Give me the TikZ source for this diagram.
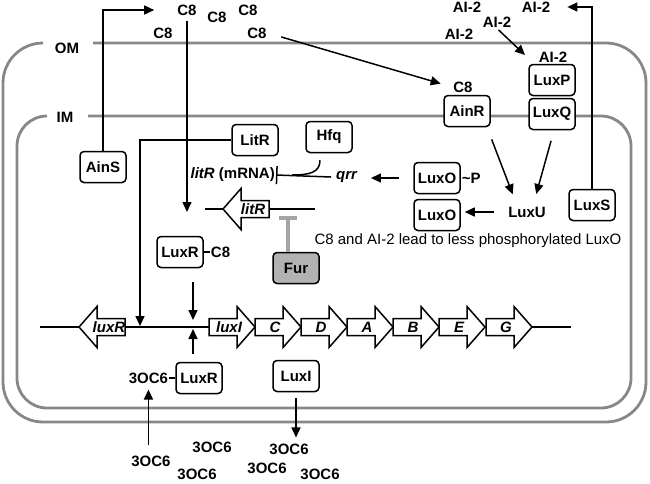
\documentclass[tikz,border=0pt]{standalone}
\usepackage{fontspec}
\setmainfont{Liberation Sans}
\usetikzlibrary{arrows.meta}
\definecolor{memgray}{RGB}{135,135,135}
\definecolor{furgray}{RGB}{178,178,178}
\definecolor{bargray}{RGB}{165,165,165}
\newcommand{\lbl}{\fontsize{15}{17}\selectfont\bfseries}
\tikzset{
  mem/.style={draw=memgray, line width=2.8pt},
  box/.style={draw, fill=white, rounded corners=4pt, line width=1.5pt, minimum width=46pt, minimum height=31pt, inner sep=2pt, font=\lbl},
  lab/.style={inner sep=1pt, font=\lbl},
  genelab/.style={inner sep=0pt, font=\lbl\itshape},
  arr/.style={line width=1.5pt, -{Triangle[length=10pt,width=9pt]}},
  link/.style={line width=1.5pt},
  gene/.style={draw, fill=white, line width=1.5pt},
  furline/.style={draw=bargray, line width=4pt, -{Bar[width=18pt]}}
}
\newcommand{\generight}[4]{%
  \draw[gene] (#2,#3-8.5) -- ++(28,0) -- ++(0,-12) -- (#2+46,#3) -- (#2+28,#3+20.5) -- ++(0,-12) -- (#2,#3+8.5) -- cycle;
  \node[genelab] (#1) at (#2+20,#3) {#4};}
\newcommand{\geneleft}[4]{%
  \draw[gene] (#2,#3) -- (#2+18,#3-20.5) -- ++(0,12) -- (#2+46,#3-8.5) -- ++(0,17) -- (#2+18,#3+8.5) -- ++(0,12) -- cycle;
  \node[genelab] (#1) at (#2+30,#3) {#4};}
\begin{document}
\begin{tikzpicture}[x=1pt, y=-1pt]
\useasboundingbox (0,0) rectangle (650,483);

\draw[mem] (93,43) -- (606,43) arc[start angle=90, end angle=0, radius=40pt] -- (646,382)
  arc[start angle=0, end angle=-90, radius=40pt] -- (43,422)
  arc[start angle=-90, end angle=-180, radius=40pt] -- (3,83)
  arc[start angle=180, end angle=90, radius=40pt];
\draw[mem] (88,116) -- (601,116) arc[start angle=90, end angle=0, radius=30pt] -- (631,378)
  arc[start angle=0, end angle=-90, radius=30pt] -- (47,408)
  arc[start angle=-90, end angle=-180, radius=30pt] -- (17,146)
  arc[start angle=180, end angle=90, radius=30pt];
\node[lab] (om) at (67,48) {OM};
\node[lab] (im) at (65,117) {IM};

\node[lab] (c8a) at (187,10) {C8};
\node[lab] (c8b) at (217,17) {C8};
\node[lab] (c8c) at (248,10) {C8};
\node[lab] (c8d) at (163,33) {C8};
\node[lab] (c8e) at (257,33) {C8};
\node[lab] (c8f) at (463,87) {C8};
\node[lab] (ai2a) at (467,7) {AI-2};
\node[lab] (ai2b) at (536,7) {AI-2};
\node[lab] (ai2c) at (497,22) {AI-2};
\node[lab] (ai2d) at (459,34) {AI-2};
\node[lab] (ai2e) at (553,57) {AI-2};

\node[box] (AinS) at (103,167) {AinS};
\node[box] (LitR) at (255,140) {LitR};
\node[box] (Hfq) at (329,137) {Hfq};
\node[box] (AinR) at (467,111) {AinR};
\node[box] (LuxP) at (552,80) {LuxP};
\node[box] (LuxQ) at (552,114) {LuxQ};
\node[box] (LuxOP) at (437,178) {LuxO};
\node[lab, anchor=west] (phos) at (LuxOP.east) {\textasciitilde P};
\node[box] (LuxO) at (437,215) {LuxO};
\node[lab] (LuxU) at (527,212) {LuxU};
\node[box] (LuxS) at (592,205) {LuxS};
\node[lab, anchor=east] (mrna) at (276,175) {\textit{litR} (mRNA)};
\node[lab] (qrr) at (347,177) {\textit{qrr}};
\node[font=\fontsize{15}{17}\selectfont] (note) at (468,241) {C8 and AI-2 lead to less phosphorylated LuxO};
\node[box, fill=furgray] (Fur) at (296,268) {Fur};
\node[box] (LuxRC) at (180,252) {LuxR};
\node[lab, anchor=west] (c8r) at ([xshift=6pt]LuxRC.east) {C8};
\node[box] (LuxRB) at (199,378) {LuxR};
\node[lab, anchor=east] (ooc) at ([xshift=-6pt]LuxRB.west) {3OC6};
\node[box] (LuxI) at (296,376) {LuxI};
\node[lab] (o1) at (151,461) {3OC6};
\node[lab] (o2) at (212,447) {3OC6};
\node[lab] (o3) at (197,474) {3OC6};
\node[lab] (o4) at (289,449) {3OC6};
\node[lab] (o5) at (267,468) {3OC6};
\node[lab] (o6) at (320,474) {3OC6};

\draw[link] (205,209) -- (315,209);
\geneleft{litRg}{223}{209}{litR}
\draw[link] (40,327) -- (571,327);
\geneleft{luxRg}{79}{327}{luxR}
\generight{luxIg}{209}{327}{luxI}
\generight{Cg}{255}{327}{C}
\generight{Dg}{301}{327}{D}
\generight{Ag}{347}{327}{A}
\generight{Bg}{393}{327}{B}
\generight{Eg}{439}{327}{E}
\generight{Gg}{486}{327}{G}

\coordinate (c8tip) at (187,212);
\coordinate (ai2tip) at (525,55);
\coordinate (litrtip) at (140,326);
\coordinate (promtop) at (193,320);
\coordinate (prombot) at (193,329);

\draw[arr, shorten >=22pt] (AinS.north) |- (c8a.west);
\draw[arr, shorten <=4pt] (c8a.south) -- (c8tip);
\draw[arr, shorten <=14pt, shorten >=12pt] (c8e.east) -- (c8f.west);
\draw[arr, shorten <=2pt] (ai2c.south) -- (ai2tip);
\draw[arr, shorten >=16pt] (LuxS.north) |- (ai2b.east);
\draw[arr, shorten <=13pt, shorten >=12pt] ([xshift=20pt]AinR.south) -- ([xshift=-10pt]LuxU.north);
\draw[arr, shorten <=11pt, shorten >=12pt] ([xshift=2pt]LuxQ.south) -- ([xshift=6pt]LuxU.north);
\draw[arr, shorten <=13pt, shorten >=4pt] (LuxU.west) -- (LuxU.west -| LuxO.east);
\draw[arr, shorten <=14pt, shorten >=12pt] (LuxOP.west) -- (LuxOP.west -| qrr.east);
\draw[link, -{Bar[width=18pt]}] ([xshift=-4pt]qrr.west) -- (mrna.east);
\draw[link] ([xshift=-9pt,yshift=-7pt]Hfq.south) .. controls +(0,12) and +(18,0) .. (292,175);
\draw[furline] ([xshift=-8pt]Fur.north) -- ++(0,-36);
\draw[arr] (LitR.west) -| (litrtip);
\draw[arr, shorten <=14pt] ([xshift=13pt]LuxRC.south) -- (promtop);
\draw[arr, shorten <=8pt] ([xshift=-6pt]LuxRB.north) -- (prombot);
\draw[link] (LuxRC.east) -- (c8r.west);
\draw[link] (ooc.east) -- (LuxRB.west);
\draw[arr, shorten <=9pt, shorten >=5pt] (ooc.south |- o1.north) -- (ooc.south);
\draw[arr, shorten <=6pt, shorten >=5pt] (LuxI.south) -- (LuxI.south |- o4.north);
\end{tikzpicture}
\end{document}
